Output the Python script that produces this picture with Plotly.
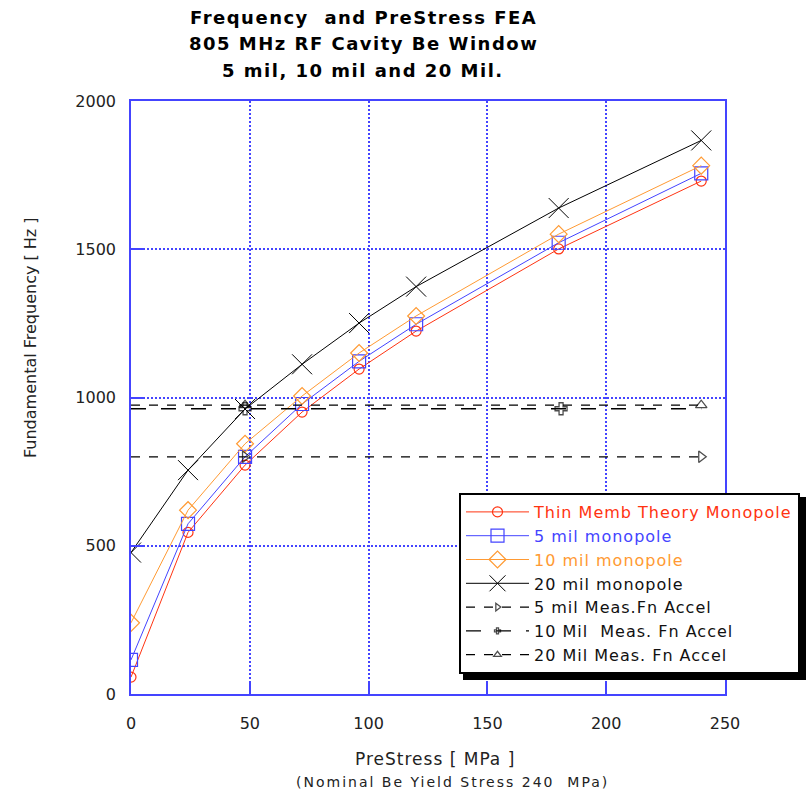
import plotly.graph_objects as go

# ---- data ----
prestress = [0, 24, 48, 72, 96, 120, 180, 240]
thin_memb = [57, 545, 772, 951, 1096, 1224, 1501, 1730]
mil5 = [115, 574, 800, 978, 1122, 1247, 1522, 1756]
mil10 = [240, 620, 844, 1005, 1150, 1275, 1551, 1782]
mil20 = [477, 755, 961, 1112, 1251, 1374, 1639, 1867]

meas5_x = [0, 48, 240]
meas5_y = [800, 800, 800]
meas10_x = [0, 48, 181, 240]
meas10_y = [962, 962, 962, 962]
meas20_x = [0, 48, 240]
meas20_y = [974, 974, 974]

x_ticks = [0, 50, 100, 150, 200, 250]
y_ticks = [0, 500, 1000, 1500, 2000]

BLUE = "#4444ff"
RED = "#ff3311"
ORANGE = "#ff9a33"
FONT = "DejaVu Sans, Verdana, sans-serif"

fig = go.Figure()

def leg(name, color):
    return f'<span style="color:{color};letter-spacing:1px">{name}</span>'

fig.add_trace(go.Scatter(x=prestress, y=thin_memb, mode="lines+markers",
                         name=leg("Thin Memb Theory Monopole", RED),
                         line=dict(color=RED, width=1),
                         marker=dict(symbol="circle-open", size=10, color=RED, line=dict(width=1.2))))
fig.add_trace(go.Scatter(x=prestress, y=mil5, mode="lines+markers",
                         name=leg("5 mil monopole", BLUE),
                         line=dict(color=BLUE, width=1),
                         marker=dict(symbol="square-open", size=13, color=BLUE, line=dict(width=1.2))))
fig.add_trace(go.Scatter(x=prestress, y=mil10, mode="lines+markers",
                         name=leg("10 mil monopole", ORANGE),
                         line=dict(color=ORANGE, width=1),
                         marker=dict(symbol="diamond-open", size=13, color=ORANGE, line=dict(width=1.2))))
fig.add_trace(go.Scatter(x=prestress, y=mil20, mode="lines+markers",
                         name=leg("20 mil monopole", "#111111"),
                         line=dict(color="black", width=1),
                         marker=dict(symbol="x-thin-open", size=20, color="black", line=dict(width=1))))
fig.add_trace(go.Scatter(x=meas5_x, y=meas5_y, mode="lines+markers",
                         name=leg("5 mil Meas.Fn Accel", "#111111"),
                         line=dict(color="black", width=1.3, dash="dash"),
                         marker=dict(symbol="triangle-right-open", size=[0, 10, 10], color="black", line=dict(width=1.3))))
fig.add_trace(go.Scatter(x=meas10_x, y=meas10_y, mode="lines+markers",
                         name=leg("10 Mil  Meas. Fn Accel", "#111111"),
                         line=dict(color="black", width=1.3, dash="longdash"),
                         marker=dict(symbol="cross-open", size=[0, 10, 10, 0], color="black", line=dict(width=1.3))))
fig.add_trace(go.Scatter(x=meas20_x, y=meas20_y, mode="lines+markers",
                         name=leg("20 Mil Meas. Fn Accel", "#111111"),
                         line=dict(color="black", width=1.3, dash="dash"),
                         marker=dict(symbol="triangle-up-open", size=[0, 10, 10], color="black", line=dict(width=1.3))))

L, R, T, B = 131, 81, 101, 99
W, H = 806, 793
pw, ph = W - L - R, H - T - B

def px(xp):
    return (xp - L) / pw

def py(yp):
    return (H - B - yp) / ph

axis_common = dict(showline=True, linecolor=BLUE, linewidth=1.5, mirror=True,
                   showgrid=True, gridcolor=BLUE, griddash="2px,2px", gridwidth=1.5,
                   zeroline=False, ticks="inside", tickcolor=BLUE, ticklen=12, tickwidth=1.5,
                   tickfont=dict(family=FONT, size=16, color="#222222"))

fig.update_layout(
    width=W, height=H,
    margin=dict(l=L, r=R, t=T, b=B, autoexpand=False),
    paper_bgcolor="white", plot_bgcolor="white",
    font=dict(family=FONT),
    xaxis=dict(range=[0, 250], tickvals=x_ticks, ticklabelstandoff=14, **axis_common),
    yaxis=dict(range=[0, 2000], tickvals=y_ticks, ticklabelstandoff=10, **axis_common),
    legend=dict(x=px(459), y=py(493), xanchor="left", yanchor="top",
                bgcolor="white", bordercolor="black", borderwidth=2,
                font=dict(family=FONT, size=16, color="#111111"),
                itemwidth=63, tracegroupgap=0),
    showlegend=True,
)

# legend shadow
fig.add_shape(type="rect", xref="paper", yref="paper",
              x0=px(463), x1=px(807), y0=py(680), y1=py(497),
              fillcolor="black", line=dict(width=0), layer="above")

titles = ["Frequency  and PreStress FEA", "805 MHz RF Cavity Be Window", "5 mil, 10 mil and 20 Mil."]
for i, t in enumerate(titles):
    fig.add_annotation(text=f'<span style="letter-spacing:1.5px"><b>{t}</b></span>',
                       xref="paper", yref="paper",
                       x=px(363), y=py(17 + 26.5 * i), xanchor="center", yanchor="middle",
                       showarrow=False, font=dict(family=FONT, size=18, color="black"))

fig.add_annotation(text='<span style="letter-spacing:1px">PreStress [ MPa ]</span>',
                   xref="paper", yref="paper",
                   x=px(435), y=py(759), xanchor="center", yanchor="middle",
                   showarrow=False, font=dict(family=FONT, size=17, color="#222222"))
fig.add_annotation(text='<span style="letter-spacing:2px">(Nominal Be Yield Stress 240  MPa)</span>',
                   xref="paper", yref="paper",
                   x=px(452), y=py(782), xanchor="center", yanchor="middle",
                   showarrow=False, font=dict(family=FONT, size=14, color="#222222"))
fig.add_annotation(text="Fundamental Frequency [ Hz ]", xref="paper", yref="paper",
                   x=px(30), y=py(338), xanchor="center", yanchor="middle", textangle=-90,
                   showarrow=False, font=dict(family=FONT, size=16, color="#222222"))

fig.write_html("out.html")
